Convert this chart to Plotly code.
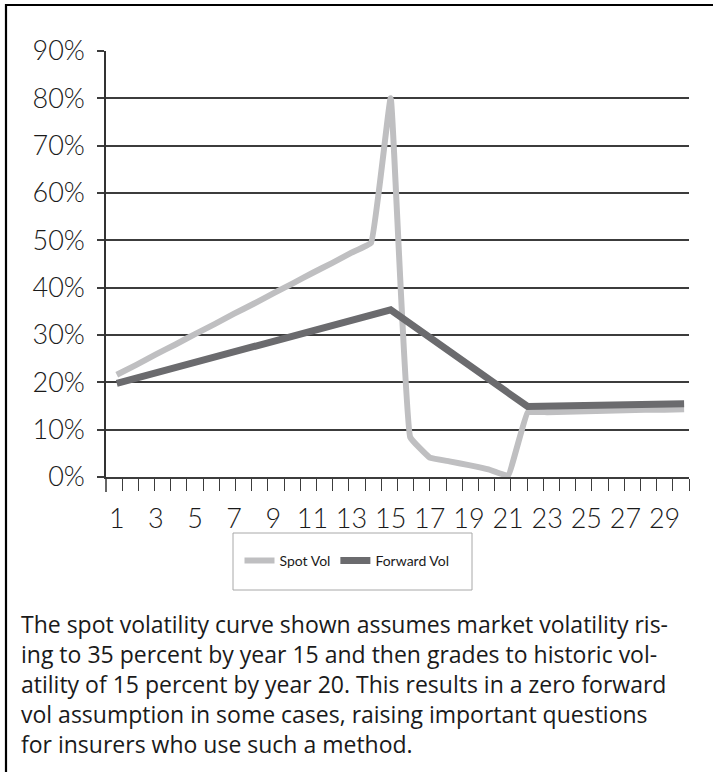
import plotly.graph_objects as go

years = list(range(1, 31))
spot_vol = [21.6, 23.7, 25.9, 28.0, 30.2, 32.3, 34.5, 36.6, 38.8, 40.9, 43.1, 45.2, 47.4, 49.5,
            80.0, 8.4, 4.1, 3.3, 2.5, 1.6, 0.3, 13.6, 13.7, 13.8, 13.9, 14.0, 14.1, 14.2, 14.2, 14.3]
forward_vol = [19.8, 20.9, 22.0, 23.1, 24.2, 25.3, 26.4, 27.5, 28.6, 29.7, 30.9, 32.0, 33.1, 34.2,
               35.3, 32.4, 29.4, 26.5, 23.6, 20.7, 17.8, 14.9, 15.0, 15.1, 15.2, 15.2, 15.3, 15.4, 15.5, 15.5]
x_tick_vals = list(range(1, 30, 2))
x_tick_text = [str(v) for v in x_tick_vals]
y_tick_vals = list(range(0, 91, 10))
y_tick_text = [f"{v}%" for v in y_tick_vals]

caption_lines = [
    "The spot volatility curve shown assumes market volatility ris-",
    "ing to 35 percent by year 15 and then grades to historic vol-",
    "atility of 15 percent by year 20. This results in a zero forward",
    "vol assumption in some cases, raising important questions",
    "for insurers who use such a method.",
]

W, H = 713, 772
L, R, T, B = 106, 24, 51, 295
PW, PH = W - L - R, H - T - B


def px(xp):
    return (xp - L) / PW


def py(yp):
    return (H - B - yp) / PH


TICK_FONT = dict(family="Lato, sans-serif", size=27, color="#1a1a1a", weight=300)
GRID = "#3c3c3c"

fig = go.Figure()
fig.add_trace(go.Scatter(x=years, y=spot_vol, name="Spot Vol", mode="lines",
                         line=dict(color="#bfbfc1", width=6, shape="spline", smoothing=0.25)))
fig.add_trace(go.Scatter(x=years, y=forward_vol, name="Forward Vol", mode="lines",
                         line=dict(color="#6b6b6e", width=7)))

fig.update_layout(
    width=W, height=H,
    margin=dict(l=L, r=R, t=T, b=B),
    paper_bgcolor="white", plot_bgcolor="white",
    showlegend=True,
    legend=dict(orientation="h", x=px(347), xanchor="center", y=py(561), yanchor="middle",
                bgcolor="rgba(0,0,0,0)", borderwidth=0,
                font=dict(family="Lato, sans-serif", size=14, color="#1a1a1a"),
                itemwidth=30, tracegroupgap=0),
    xaxis=dict(range=[0.45, 30.25], tickmode="array", tickvals=x_tick_vals, ticktext=x_tick_text,
               ticks="outside", ticklen=12, tickcolor="rgba(0,0,0,0)", ticklabelstandoff=5,
               showgrid=False, zeroline=False, showline=True, linecolor=GRID, linewidth=1.5,
               tickfont=TICK_FONT,
               minor=dict(ticks="outside", tick0=1.27, dtick=0.828, ticklen=12,
                          tickcolor=GRID, tickwidth=1.3, showgrid=False)),
    yaxis=dict(range=[0, 90], tickmode="array", tickvals=y_tick_vals, ticktext=y_tick_text,
               ticks="outside", ticklen=7, tickcolor=GRID, tickwidth=1.5,
               showgrid=True, gridcolor=GRID, gridwidth=1.5, zeroline=False,
               showline=True, linecolor="#333333", linewidth=1.5, ticklabelstandoff=7,
               tickfont=TICK_FONT),
)

# frame, legend box, axis extension below the baseline
fig.add_shape(type="rect", xref="paper", yref="paper", x0=px(6), x1=px(760), y0=py(5), y1=py(800),
              line=dict(color="black", width=2.2), fillcolor="rgba(0,0,0,0)", layer="below")
fig.add_shape(type="rect", xref="paper", yref="paper", x0=px(233), x1=px(472), y0=py(533), y1=py(590),
              line=dict(color="#a8a8a8", width=1), fillcolor="rgba(0,0,0,0)")
fig.add_shape(type="line", xref="paper", yref="paper", x0=0, x1=0, y0=0, y1=py(492),
              line=dict(color="#333333", width=1.5))

fig.add_annotation(xref="paper", yref="paper", x=px(19), y=py(684), xanchor="left", yanchor="middle",
                   text="<br>".join(caption_lines), showarrow=False, align="left",
                   font=dict(family="Open Sans, sans-serif", size=23, color="#1a1a1a"))

fig.write_html("out.html", config={"displayModeBar": False},
               post_script="document.body.style.margin='0px';")
